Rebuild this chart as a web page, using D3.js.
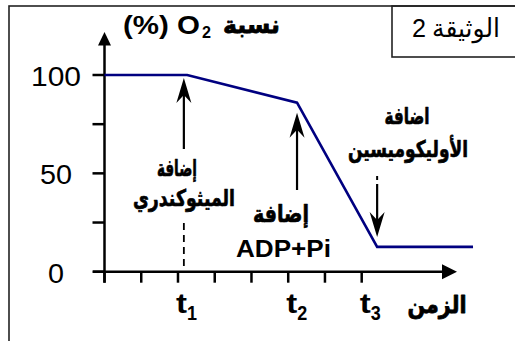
<!DOCTYPE html>
<html><head><meta charset="utf-8">
<script src="https://cdn.jsdelivr.net/npm/d3@7"></script>
<style>body{margin:0;background:#fff}svg{display:block}</style>
</head><body><svg id="c" width="515" height="341"></svg>
<script>
// ---- data ----
const timeTicks = [0, 1, 2, 3, 4, 5, 6, 7];
const namedTicks = [2, 5, 7];
const namedTickSubs = ["1", "2", "3"];
const o2Ticks = [0, 25, 50, 75, 100];
const o2Labels = [0, 50, 100];
const curveTime = [0, 2.25, 5.24, 7.42, 10.03];
const curveO2 = [100, 100, 85.9, 12.6, 12.6];
const additionTime = [2.16, 5.24, 7.42];
const additionLine1 = ["إضافة", "إضافة", "اضافة"];
const additionLine2 = ["الميثوكندري", "ADP+Pi", "الأوليكوميسين"];
const yTitleAr = "نسبة";
const yTitleLat = "(%) O";
const yTitleSub = "2";
const xTitle = "الزمن";
const docLabel = "الوثيقة";
const docNum = "2";

const FONT = "'Liberation Sans', Arial, sans-serif";
const AR = "'DejaVu Sans', sans-serif";
const svg = d3.select("#c");
const x = d3.scaleLinear().domain([0, 7]).range([104.5, 361.7]);
const y = d3.scaleLinear().domain([0, 100]).range([271.7, 75]);
const x0 = x(0), y0 = y(0);

function label(t, px, py, size, weight, anchor, w, fam) {
  const el = svg.append("text").attr("x", px).attr("y", py)
    .attr("font-family", fam || FONT).attr("font-size", size)
    .attr("font-weight", weight).attr("text-anchor", anchor)
    .attr("fill", "#000").text(t);
  if (w) el.attr("textLength", w).attr("lengthAdjust", "spacingAndGlyphs");
  return el;
}
function arLabel(t, px, py, size, anchor, w, sw) {
  return label(t, px, py, size, "bold", anchor, w, AR)
    .attr("stroke", "#000").attr("stroke-width", sw).attr("stroke-linejoin", "round");
}

// frames
svg.append("rect").attr("x", 9).attr("y", 6).attr("width", 530).attr("height", 360)
  .attr("fill", "none").attr("stroke", "#222").attr("stroke-width", 1.6);
svg.append("rect").attr("x", 392).attr("y", 6).attr("width", 140).attr("height", 51)
  .attr("fill", "none").attr("stroke", "#222").attr("stroke-width", 1.6);

// document label
label(docNum, 412, 37, 25, "normal", "start", 14);
label(docLabel, 500, 37, 26, "normal", "end", 68, AR);

// axes
svg.append("line").attr("x1", x0).attr("x2", x0).attr("y1", y0 + 11).attr("y2", 44)
  .attr("stroke", "#000").attr("stroke-width", 2.5);
svg.append("path").attr("d", `M${x0},32 L${x0 - 6.5},45.5 L${x0 + 6.5},45.5 Z`).attr("fill", "#000");
svg.append("line").attr("x1", 93).attr("x2", 444).attr("y1", y0).attr("y2", y0)
  .attr("stroke", "#000").attr("stroke-width", 2.5);
svg.append("path").attr("d", `M457,${y0} L442,${y0 - 7.5} L442,${y0 + 7.5} Z`).attr("fill", "#000");

svg.selectAll(".yt").data(o2Ticks).join("line")
  .attr("x1", x0 - 12).attr("x2", x0).attr("y1", d => y(d)).attr("y2", d => y(d))
  .attr("stroke", "#000").attr("stroke-width", 2.5);
svg.selectAll(".xt").data(timeTicks).join("line")
  .attr("x1", d => x(d)).attr("x2", d => x(d)).attr("y1", y0).attr("y2", y0 + 11)
  .attr("stroke", "#000").attr("stroke-width", 2.5);

const yLabW = {0: 16, 50: 32, 100: 50};
o2Labels.forEach(v => {
  label(String(v), 56, y(v) + 2, 27, "normal", "middle", yLabW[v])
    .attr("dominant-baseline", "central");
});

namedTicks.forEach((t, i) => {
  label("t", x(t) - 2, 313, 28, "bold", "start", 11);
  label(namedTickSubs[i], x(t) + 9, 320, 20, "bold", "start", 10);
});
arLabel(xTitle, 437, 313, 24, "middle", 59, 0.8);

// y title
label(yTitleLat, 123, 34, 25, "bold", "start", 77);
label(yTitleSub, 202, 38, 17, "bold", "start", 9);
arLabel(yTitleAr, 280, 33, 24, "end", 57, 0.8);

// curve
const pts = curveTime.map((t, i) => [x(t), y(curveO2[i])]);
svg.append("path").attr("d", d3.line()(pts)).attr("fill", "none")
  .attr("stroke", "#000080").attr("stroke-width", 2.6).attr("stroke-linejoin", "miter");

// arrows
function arrow(ax, tail, tip) {
  const dir = tip < tail ? 1 : -1; // 1 = pointing up
  svg.append("line").attr("x1", ax).attr("x2", ax).attr("y1", tail).attr("y2", tip + dir * 12)
    .attr("stroke", "#000").attr("stroke-width", 2.2);
  svg.append("path").attr("d",
    `M${ax},${tip} L${ax - 7.5},${tip + dir * 25} L${ax},${tip + dir * 17} L${ax + 7.5},${tip + dir * 25} Z`)
    .attr("fill", "#000");
}
const interp = t => {
  for (let i = 1; i < curveTime.length; i++) {
    if (t <= curveTime[i]) {
      const f = (t - curveTime[i - 1]) / (curveTime[i] - curveTime[i - 1]);
      return curveO2[i - 1] + f * (curveO2[i] - curveO2[i - 1]);
    }
  }
  return curveO2[curveO2.length - 1];
};
arrow(x(additionTime[0]), 149, y(interp(additionTime[0])) + 3);
arrow(x(additionTime[1]), 190, y(interp(additionTime[1])) + 10);
arrow(x(additionTime[2]), 184, y(interp(additionTime[2])) - 10);
svg.append("line").attr("x1", x(additionTime[2])).attr("x2", x(additionTime[2]))
  .attr("y1", 176).attr("y2", 180).attr("stroke", "#000").attr("stroke-width", 2);
// dashed drop line at first addition
svg.append("line").attr("x1", x(additionTime[0])).attr("x2", x(additionTime[0]))
  .attr("y1", 223).attr("y2", y0).attr("stroke", "#000").attr("stroke-width", 1.8)
  .attr("stroke-dasharray", "7,5");

// annotation texts
arLabel(additionLine1[0], 177, 176, 23, "middle", 40, 0.7);
arLabel(additionLine2[0], 184, 206, 23, "middle", 102, 0.7);
arLabel(additionLine1[1], 281, 222, 24, "middle", 56, 0.7);
label(additionLine2[1], 283.5, 257, 24, "bold", "middle", 95);
arLabel(additionLine1[2], 407, 124, 23, "middle", 45, 0.7);
arLabel(additionLine2[2], 408, 157, 23, "middle", 120, 0.7);
</script></body></html>
